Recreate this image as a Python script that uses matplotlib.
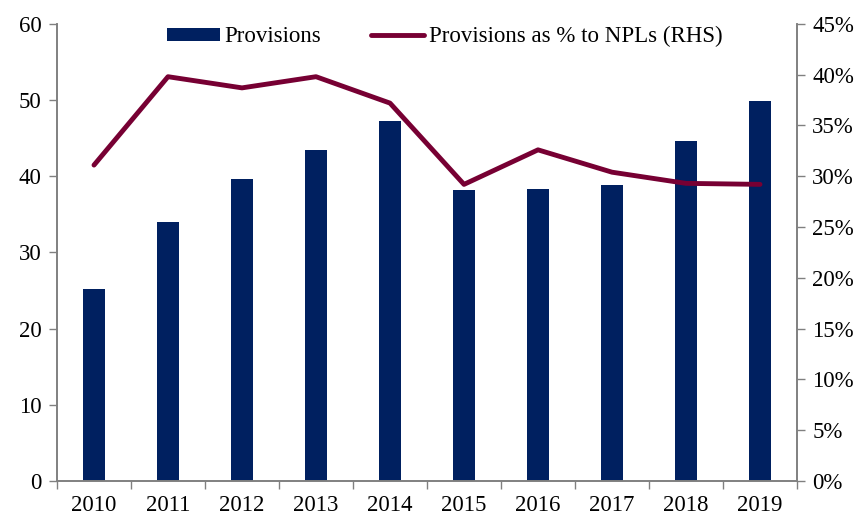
import matplotlib
matplotlib.use("Agg")
import matplotlib.pyplot as plt
import numpy as np
from matplotlib.ticker import FuncFormatter, MultipleLocator

plt.rcParams["font.family"] = ["Liberation Serif", "DejaVu Serif"]

years = ["2010", "2011", "2012", "2013", "2014", "2015", "2016", "2017", "2018", "2019"]
provisions = [25.2, 34.0, 39.6, 43.4, 47.2, 38.2, 38.3, 38.8, 44.6, 49.9]
provisions_pct = [31.1, 39.8, 38.7, 39.8, 37.2, 29.2, 32.6, 30.4, 29.3, 29.2]

bar_color = "#002060"
line_color = "#770033"
axis_gray = "#808080"
fs = 16.5

fig = plt.figure(figsize=(8.57, 5.19), dpi=100)
ax = fig.add_axes([0.0665, 0.0732, 0.8635, 0.8808])
ax2 = ax.twinx()

x = np.arange(len(years))
bars = ax.bar(x, provisions, width=0.3, color=bar_color, label="Provisions", zorder=2)
line, = ax2.plot(x, provisions_pct, color=line_color, lw=3.5, solid_capstyle="round",
                 solid_joinstyle="round", label="Provisions as % to NPLs (RHS)", zorder=3)

ax.set_xlim(-0.5, len(years) - 0.5)
ax.set_ylim(0, 60)
ax2.set_ylim(0, 45)
ax.yaxis.set_major_locator(MultipleLocator(10))
ax2.yaxis.set_major_locator(MultipleLocator(5))
ax2.yaxis.set_major_formatter(FuncFormatter(lambda v, _: f"{v:.0f}%"))

# category labels centred, tick marks on the boundaries
ax.set_xticks(x)
ax.set_xticklabels(years)
ax.set_xticks(np.arange(-0.5, len(years)), minor=True)
ax.tick_params(axis="x", which="major", length=0, pad=10, labelsize=fs)
ax.tick_params(axis="x", which="minor", length=6, color=axis_gray, width=1)
ax.tick_params(axis="y", length=6, color=axis_gray, width=1, labelsize=fs, pad=5)
ax2.tick_params(axis="y", length=6, color=axis_gray, width=1, labelsize=fs, pad=5)

for a in (ax, ax2):
    a.spines["top"].set_visible(False)
    for s in ("left", "right", "bottom"):
        a.spines[s].set_color(axis_gray)
        a.spines[s].set_linewidth(1.2)
    a.patch.set_visible(False)

ax.legend([bars, line], ["Provisions", "Provisions as % to NPLs (RHS)"],
          loc="upper left", bbox_to_anchor=(0.136, 1.015), ncol=2, frameon=False,
          fontsize=fs, handlelength=2.3, handleheight=0.5, columnspacing=2.2,
          handletextpad=0.2, borderaxespad=0.0)

fig.savefig("out.png", dpi=100)
